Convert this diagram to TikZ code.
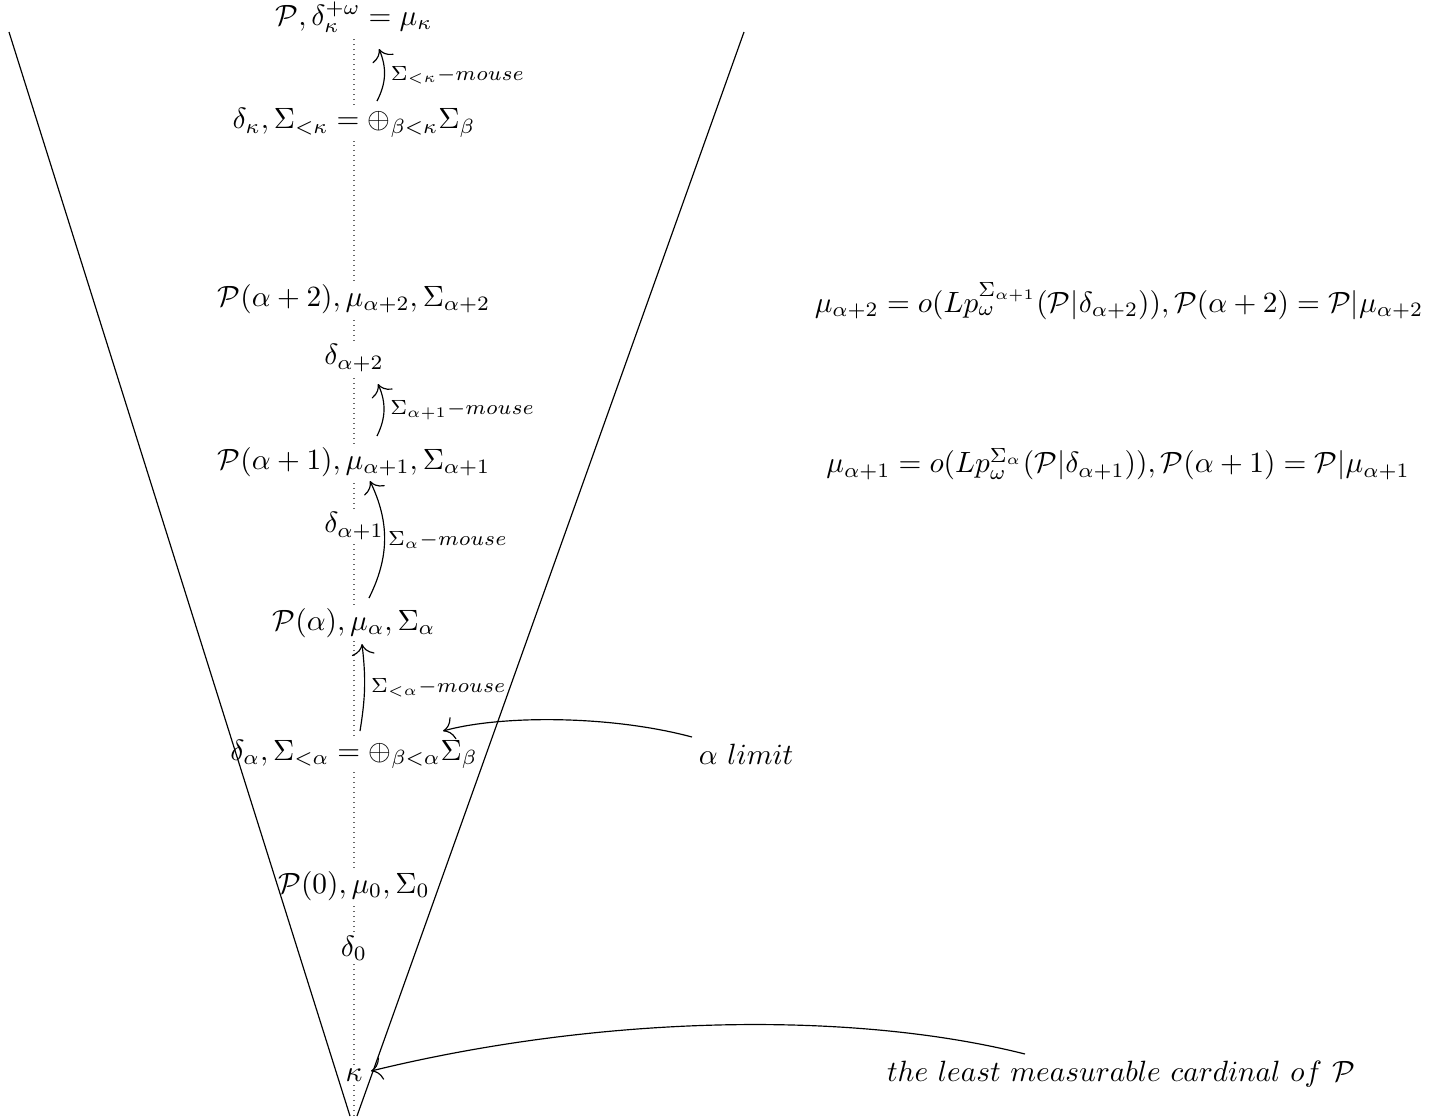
\documentclass[tikz,border=0pt]{standalone}
\usepackage{amsmath}
\usetikzlibrary{arrows.meta}
\begin{document}
\begin{tikzpicture}[x=0.341pt,y=-0.341pt,
  lbl/.style={inner sep=1pt},
  mouselbl/.style={font=\scriptsize,inner sep=1pt,anchor=west},
  dotline/.style={dash pattern=on 0.4pt off 1.3pt,black!60},
  arr/.style={-{To[scale=1.5]}}]
\useasboundingbox (0,0) rectangle (1440,1119);
% cone
\coordinate (lt) at (9,32);
\coordinate (lb) at (350,1116);
\coordinate (rt) at (744,32);
\coordinate (rb) at (357,1116);
\draw (lt) -- (lb);
\draw (rt) -- (rb);
% nodes on the axis
\node[lbl] (top) at (354,17) {$\mathcal{P},\delta_\kappa^{+\omega}=\mu_\kappa$};
\node[lbl] (dk) at (354,123) {$\delta_\kappa,\Sigma_{<\kappa}=\oplus_{\beta<\kappa}\Sigma_\beta$};
\node[lbl] (Pa2) at (354,299) {$\mathcal{P}(\alpha+2),\mu_{\alpha+2},\Sigma_{\alpha+2}$};
\node[lbl] (da2) at (354,358) {$\delta_{\alpha+2}$};
\node[lbl] (Pa1) at (354,462) {$\mathcal{P}(\alpha+1),\mu_{\alpha+1},\Sigma_{\alpha+1}$};
\node[lbl] (da1) at (354,526) {$\delta_{\alpha+1}$};
\node[lbl] (Pa) at (354,623) {$\mathcal{P}(\alpha),\mu_\alpha,\Sigma_\alpha$};
\node[lbl] (da) at (354,754) {$\delta_\alpha,\Sigma_{<\alpha}=\oplus_{\beta<\alpha}\Sigma_\beta$};
\node[lbl] (P0) at (354,886) {$\mathcal{P}(0),\mu_0,\Sigma_0$};
\node[lbl] (d0) at (354,948) {$\delta_0$};
\node[lbl] (k) at (354,1075) {$\kappa$};
\coordinate (bot) at (354,1116);
% dotted axis
\draw[dotline] (bot) -- (k);
\draw[dotline] (k) -- (d0);
\draw[dotline] (d0) -- (P0);
\draw[dotline] (P0) -- (da);
\draw[dotline] (da) -- (Pa);
\draw[dotline] (Pa) -- (da1);
\draw[dotline] (da1) -- (Pa1);
\draw[dotline] (Pa1) -- (da2);
\draw[dotline] (da2) -- (Pa2);
\draw[dotline] (Pa2) -- (dk);
\draw[dotline] (dk) -- (top);
% right-hand formulas
\node[lbl] (f2) at (1119,301) {$\mu_{\alpha+2}=o(Lp_\omega^{\Sigma_{\alpha+1}}(\mathcal{P}|\delta_{\alpha+2})),\mathcal{P}(\alpha+2)=\mathcal{P}|\mu_{\alpha+2}$};
\node[lbl] (f1) at (1118,464) {$\mu_{\alpha+1}=o(Lp_\omega^{\Sigma_{\alpha}}(\mathcal{P}|\delta_{\alpha+1})),\mathcal{P}(\alpha+1)=\mathcal{P}|\mu_{\alpha+1}$};
\node[lbl] (alim) at (746,754) {$\alpha\ limit$};
\node[lbl] (least) at (1121,1074) {$the\ least\ measurable\ cardinal\ of\ \mathcal{P}$};
% mouse arrows
\coordinate (m1s) at (377,101);
\coordinate (m1e) at (379,49);
\draw[arr] (m1s) to[bend right=25] node[mouselbl,pos=0.5,xshift=1] {$\Sigma_{<\kappa}{-}mouse$} (m1e);
\coordinate (m2s) at (377,436);
\coordinate (m2e) at (378,384);
\draw[arr] (m2s) to[bend right=25] node[mouselbl,pos=0.5,xshift=1] {$\Sigma_{\alpha+1}{-}mouse$} (m2e);
\coordinate (m3s) at (369,598);
\coordinate (m3e) at (370,481);
\draw[arr] (m3s) to[bend right=26] node[mouselbl,pos=0.5] {$\Sigma_{\alpha}{-}mouse$} (m3e);
\coordinate (m4s) at (360,731);
\coordinate (m4e) at (362,644);
\draw[arr] (m4s) to[bend right=8] node[mouselbl,pos=0.5,xshift=1] {$\Sigma_{<\alpha}{-}mouse$} (m4e);
% pointer arrows
\coordinate (as) at (692,737);
\coordinate (ae) at (443,731);
\draw[arr] (as) .. controls (610,715) and (500,715) .. (ae);
\coordinate (ks) at (1025,1054);
\coordinate (ke) at (371,1071);
\draw[arr] (ks) .. controls (850,1010) and (600,1015) .. (ke);
\end{tikzpicture}
\end{document}
